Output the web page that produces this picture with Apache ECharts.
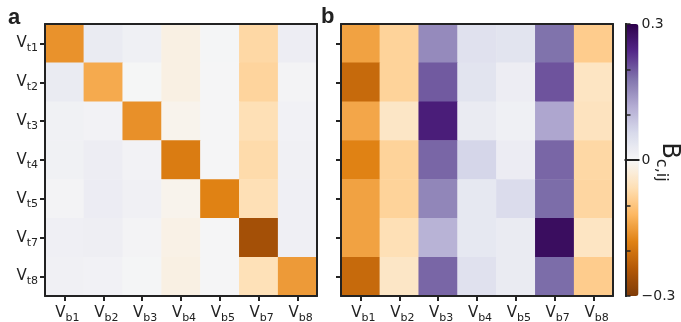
<!DOCTYPE html>
<html><head><meta charset="utf-8">
<script src="https://cdn.jsdelivr.net/npm/echarts@6/dist/echarts.min.js"></script>
<style>html,body{margin:0;padding:0;background:#fff}#c{width:681px;height:322px}</style>
</head><body><div id="c"></div>
<script>
// ---- data ----
const rowLabels = ['t1','t2','t3','t4','t5','t7','t8'];
const colLabels = ['b1','b2','b3','b4','b5','b7','b8'];
// panel a: rows t1..t8, columns b1..b8
const panelA = [
  [-0.162, 0.025, 0.015, -0.018, 0.005, -0.072, 0.020],
  [ 0.025,-0.136, 0.003, -0.018, 0.004, -0.078, 0.008],
  [ 0.013, 0.010,-0.164, -0.010, 0.004, -0.060, 0.012],
  [ 0.013, 0.020, 0.010, -0.188, 0.004, -0.068, 0.014],
  [ 0.008, 0.022, 0.014, -0.010,-0.180, -0.060, 0.016],
  [ 0.016, 0.018, 0.008, -0.016, 0.004, -0.257, 0.016],
  [ 0.014, 0.012, 0.005, -0.018, 0.004, -0.058,-0.153]
];
// panel b
const panelB = [
  [-0.145,-0.080, 0.155, 0.045, 0.040, 0.180,-0.090],
  [-0.215,-0.080, 0.200, 0.040, 0.020, 0.205,-0.048],
  [-0.140,-0.045, 0.255, 0.025, 0.015, 0.125,-0.052],
  [-0.180,-0.080, 0.190, 0.065, 0.022, 0.190,-0.072],
  [-0.145,-0.080, 0.160, 0.032, 0.055, 0.185,-0.075],
  [-0.145,-0.060, 0.110, 0.032, 0.025, 0.280,-0.048],
  [-0.215,-0.045, 0.190, 0.045, 0.025, 0.185,-0.090]
];
const cbMin = -0.3, cbMax = 0.3, cbStep = 0.1;
const cbLabelTicks = [-0.3, 0, 0.3];
const puor = ['#7f3b08','#b35806','#e08214','#fdb863','#fee0b6','#f7f7f7','#d8daeb','#b2abd2','#8073ac','#542788','#2d004b'];

// ---- build ----
function toCells(m){const out=[];m.forEach((row,r)=>row.forEach((v,c)=>out.push([c,r,v])));return out;}
const FONT='DejaVu Sans', INK='#222';
const richY = {
  v:{fontSize:15,fontFamily:FONT,color:INK,lineHeight:15,verticalAlign:'top'},
  s:{fontSize:11,fontFamily:FONT,color:INK,lineHeight:11,verticalAlign:'top',padding:[7,0,0,0]}
};
const richX = {
  v:{fontSize:15,fontFamily:FONT,color:INK,lineHeight:15,verticalAlign:'top',padding:[0,0,0,6]},
  s:{fontSize:11,fontFamily:FONT,color:INK,lineHeight:11,verticalAlign:'top',padding:[7,0,0,0]}
};
const lineSt = {color:INK,width:2};
const G = [
  {left:45, top:24, width:272, height:272},
  {left:341, top:24, width:272, height:272},
  {left:625.5, top:24, width:13, height:272}
];
const xAxes=[], yAxes=[];
[0,1].forEach(g=>{
  xAxes.push({type:'category',gridIndex:g,data:colLabels,position:'bottom',z:10,
    axisLine:{show:true,lineStyle:lineSt},
    axisTick:{show:true,interval:0,alignWithLabel:true,length:5,lineStyle:{color:INK,width:2}},
    axisLabel:{interval:0,margin:10,formatter:v=>'{v|V}{s|'+v+'}',rich:richX},splitLine:{show:false}});
  xAxes.push({type:'category',gridIndex:g,data:colLabels,position:'top',z:10,
    axisLine:{show:true,lineStyle:lineSt},axisTick:{show:false},axisLabel:{show:false}});
  yAxes.push({type:'category',gridIndex:g,data:rowLabels,inverse:true,position:'left',z:10,
    axisLine:{show:true,lineStyle:lineSt},
    axisTick:{show:true,interval:0,alignWithLabel:true,length:5,lineStyle:{color:INK,width:2}},
    axisLabel:{show:g===0,interval:0,margin:7,formatter:v=>'{v|V}{s|'+v+'}',rich:richY},splitLine:{show:false}});
  yAxes.push({type:'category',gridIndex:g,data:rowLabels,inverse:true,position:'right',z:10,
    axisLine:{show:true,lineStyle:lineSt},axisTick:{show:false},axisLabel:{show:false}});
});
// colorbar frame axes
xAxes.push({type:'value',gridIndex:2,min:0,max:1,position:'bottom',z:10,axisLine:{show:true,lineStyle:lineSt},axisTick:{show:false},axisLabel:{show:false},splitLine:{show:false}});
xAxes.push({type:'value',gridIndex:2,min:0,max:1,position:'top',z:10,axisLine:{show:true,lineStyle:lineSt},axisTick:{show:false},axisLabel:{show:false},splitLine:{show:false}});
yAxes.push({type:'value',gridIndex:2,min:cbMin,max:cbMax,interval:cbStep,position:'left',z:10,axisLine:{show:true,lineStyle:lineSt},axisTick:{show:false},axisLabel:{show:false},splitLine:{show:false}});
yAxes.push({type:'value',gridIndex:2,min:cbMin,max:cbMax,interval:cbStep,position:'right',z:10,
  axisLine:{show:true,lineStyle:lineSt},
  axisTick:{show:true,length:5,lineStyle:{color:INK,width:1.5}},
  axisLabel:{margin:3,fontSize:14,fontFamily:FONT,color:INK,padding:[4,0,0,0],align:'left',
    formatter:v=>{const k=cbLabelTicks.find(t=>Math.abs(t-v)<1e-9);return k===undefined?'':(k<0?'\u2212'+Math.abs(k):String(k));}},
  splitLine:{show:false}});

const option = {
  animation:false,
  backgroundColor:'#fff',
  grid:G.map(g=>Object.assign({containLabel:false,outerBoundsMode:'none'},g)),
  xAxis:xAxes, yAxis:yAxes,
  visualMap:{type:'continuous',min:cbMin,max:cbMax,seriesIndex:[0,1],
    inRange:{color:puor},calculable:false,hoverLink:false,
    orient:'vertical',left:G[2].left,top:G[2].top,itemWidth:G[2].width,itemHeight:G[2].height,
    padding:0,text:null,showLabel:false,textStyle:{fontSize:0}},
  series:[
    {type:'heatmap',xAxisIndex:0,yAxisIndex:0,data:toCells(panelA),emphasis:{disabled:true}},
    {type:'heatmap',xAxisIndex:2,yAxisIndex:2,data:toCells(panelB),emphasis:{disabled:true}}
  ],
  graphic:[
    {type:'text',left:8,top:7,style:{text:'a',font:'bold 22px "Liberation Sans"',fill:INK}},
    {type:'text',left:321,top:6,style:{text:'b',font:'bold 22px "Liberation Sans"',fill:INK}},
    {type:'text',x:669,y:162,rotation:-Math.PI/2,z:20,
      style:{text:'{B|B}{s|c,ij}',align:'center',verticalAlign:'middle',
        rich:{
          B:{fontSize:24,fontFamily:FONT,fill:INK,lineHeight:24,verticalAlign:'top'},
          s:{fontSize:16,fontFamily:FONT,fill:INK,lineHeight:16,verticalAlign:'top',padding:[12,0,0,0]}
        }}}
  ]
};
const chart = echarts.init(document.getElementById('c'),null,{renderer:'canvas'});
chart.setOption(option);
</script></body></html>
